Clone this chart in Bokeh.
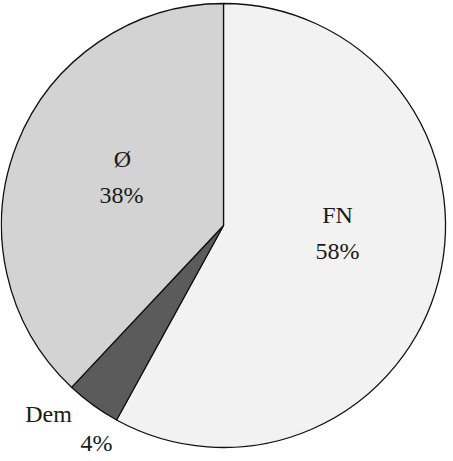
import math
from bokeh.plotting import figure
from bokeh.models import Range1d, ColumnDataSource
from bokeh.core.properties import value
from bokeh.embed import file_html
from bokeh.resources import INLINE

# data
categories = ["FN", "Dem", "Ø"]
shares = [58, 4, 38]
colors = ["#f2f2f2", "#5b5b5b", "#d3d3d3"]

# label layout (pixels from top-left of figure)
label_name_pos = [(337, 214), (48, 413), (122, 158)]
label_pct_pos = [(337, 250), (96, 442), (121, 194)]

W, H = 453, 461
CX, CY, R = 223, 225, 222

p = figure(width=W, height=H, output_backend="svg", toolbar_location=None,
           x_range=Range1d(0, W), y_range=Range1d(0, H), min_border=0,
           outline_line_color=None, background_fill_color="white")
p.axis.visible = False
p.xaxis.visible = False
p.yaxis.visible = False
p.grid.visible = False

total = sum(shares)
starts, ends = [], []
a = math.pi / 2
for s in shares:
    starts.append(a)
    a -= 2 * math.pi * s / total
    ends.append(a)

src = ColumnDataSource(dict(start=starts, end=ends, color=colors,
                            x=[CX] * 3, y=[H - CY] * 3))
p.wedge(x="x", y="y", radius=R, start_angle="start", end_angle="end",
        direction="clock", fill_color="color", line_color="#111111",
        line_width=1.3, source=src)

names = categories
pcts = [f"{s}%" for s in shares]
tsrc = ColumnDataSource(dict(
    x=[q[0] for q in label_name_pos] + [q[0] for q in label_pct_pos],
    y=[H - q[1] for q in label_name_pos] + [H - q[1] for q in label_pct_pos],
    t=names + pcts))
p.text(x="x", y="y", text="t", source=tsrc, text_align="center",
       text_baseline="alphabetic", text_font=value("Liberation Serif"),
       text_font_size="24px", text_color="#1a1a1a")

open("out.html", "w").write(file_html(p, INLINE))
